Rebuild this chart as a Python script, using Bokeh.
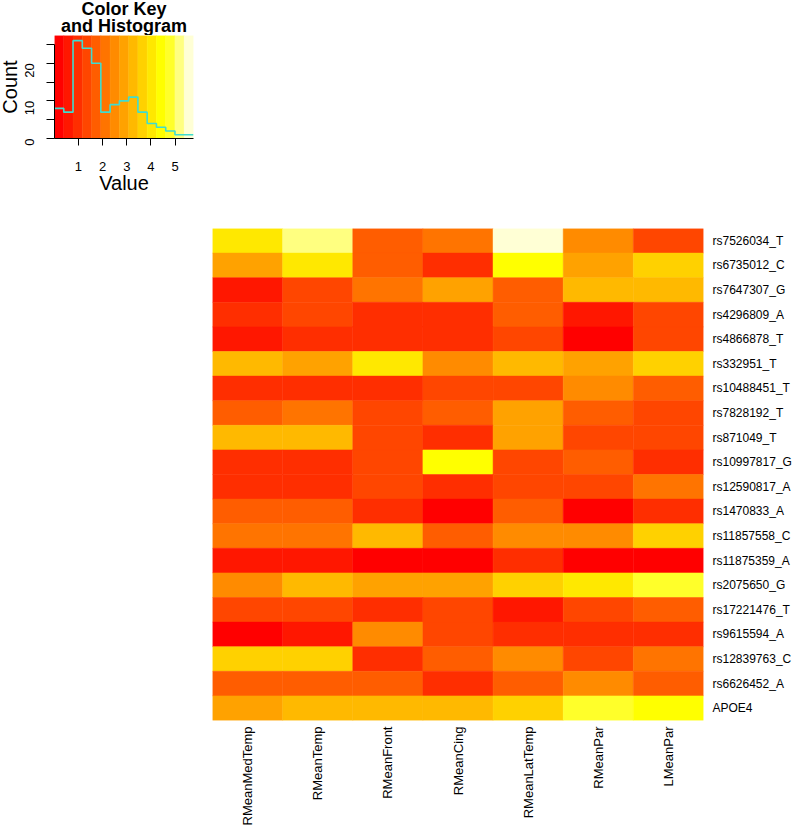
import math
import numpy as np
from bokeh.plotting import figure
from bokeh.models import (FactorRange, Range1d, LinearColorMapper, FixedTicker,
                          ColumnDataSource)
from bokeh.core.properties import value
from bokeh.layouts import column
from bokeh.transform import transform
from bokeh.embed import file_html
from bokeh.resources import INLINE

# ---------------- data ----------------
columns = ["RMeanMedTemp", "RMeanTemp", "RMeanFront", "RMeanCing",
           "RMeanLatTemp", "RMeanPar", "LMeanPar"]

rows = ["rs7526034_T", "rs6735012_C", "rs7647307_G", "rs4296809_A",
        "rs4866878_T", "rs332951_T", "rs10488451_T", "rs7828192_T",
        "rs871049_T", "rs10997817_G", "rs12590817_A", "rs1470833_A",
        "rs11857558_C", "rs11875359_A", "rs2075650_G", "rs17221476_T",
        "rs9615594_A", "rs12839763_C", "rs6626452_A", "APOE4"]

values = [
    [4.05, 5.18, 1.72, 2.10, 5.76, 2.52, 1.38],
    [2.86, 4.10, 1.69, 0.97, 4.41, 2.91, 3.62],
    [0.58, 1.33, 2.05, 2.82, 1.78, 3.25, 3.31],
    [1.05, 1.41, 0.95, 0.99, 1.74, 0.62, 1.36],
    [0.55, 0.92, 1.02, 0.98, 1.29, 0.18, 1.43],
    [3.30, 2.95, 4.08, 2.47, 3.36, 2.88, 3.70],
    [0.90, 0.96, 1.08, 1.25, 1.33, 2.58, 1.65],
    [1.81, 2.14, 1.47, 1.76, 2.97, 1.70, 1.40],
    [3.22, 3.18, 1.35, 0.88, 2.79, 1.30, 1.46],
    [1.01, 1.06, 1.28, 4.48, 1.39, 1.62, 0.85],
    [0.94, 1.10, 1.44, 0.87, 1.37, 1.22, 2.20],
    [1.67, 1.73, 0.83, 0.01, 1.84, 0.27, 1.04],
    [2.25, 2.18, 3.40, 1.60, 2.40, 2.62, 3.55],
    [0.66, 0.49, 0.31, 0.22, 1.12, 0.12, 0.35],
    [2.44, 3.15, 2.75, 3.01, 3.78, 3.95, 4.72],
    [1.20, 1.32, 1.00, 1.49, 0.70, 1.26, 1.86],
    [0.08, 0.44, 2.36, 1.52, 0.80, 1.14, 0.91],
    [3.52, 3.66, 1.11, 1.58, 2.55, 1.45, 2.02],
    [1.89, 1.64, 1.90, 1.07, 1.61, 2.66, 1.79],
    [2.73, 3.38, 3.28, 3.12, 3.49, 4.88, 4.35],
]

# heat.colors(15)
palette = ["#FF0000", "#FF1700", "#FF2E00", "#FF4600", "#FF5D00",
           "#FF7400", "#FF8B00", "#FFA200", "#FFB900", "#FFD100",
           "#FFE800", "#FFFF00", "#FFFF2A", "#FFFF80", "#FFFFD5"]

value_ticks = [1, 2, 3, 4, 5]
count_ticks = [0, 5, 10, 15, 20, 25]
count_tick_labels = {0: "0", 5: "", 10: "10", 15: "", 20: "20", 25: ""}
key_title = ["Color Key", "and Histogram"]

FONT = "Liberation Sans"

# ---------------- derived ----------------
vals = np.array(values, dtype=float)
vmin, vmax = float(vals.min()), float(vals.max())
breaks = np.linspace(vmin, vmax, len(palette) + 1)
counts, _ = np.histogram(vals.ravel(), bins=breaks)
ymax = counts.max() / 0.95          # top of the colour bar, in counts
xmid = (vmin + vmax) / 2

mapper = LinearColorMapper(palette=palette, low=vmin, high=vmax)

# ---------------- key title ----------------
title_fig = figure(x_range=Range1d(vmin, vmax), y_range=Range1d(0, 1),
                   frame_width=139, frame_height=35, min_border=0,
                   min_border_left=54, min_border_right=7,
                   x_axis_type=None, y_axis_type=None,
                   output_backend="svg", toolbar_location=None, tools="")
title_fig.grid.visible = False
title_fig.outline_line_color = None
title_fig.frame_align = False
title_fig.text(x=[xmid, xmid], y=[0, 0], text=key_title, y_offset=[-26.5, -10],
               text_align="center", text_baseline="alphabetic",
               text_font=value(FONT), text_font_size="18px",
               text_font_style="bold", text_color="black")

# ---------------- colour key ----------------
SHIFT = 20   # key canvas starts this far left of the page edge
key = figure(x_range=Range1d(vmin, vmax), y_range=Range1d(0, ymax),
             frame_width=139, frame_height=103,
             min_border_left=54 + SHIFT, min_border_right=7,
             min_border_top=0, min_border_bottom=67,
             output_backend="svg", toolbar_location=None, tools="",
             styles={"margin-left": f"-{SHIFT}px"})
key.frame_align = False
key.grid.visible = False
key.outline_line_color = None

key.quad(left=breaks[:-1], right=breaks[1:], bottom=0, top=ymax,
         fill_color=palette, line_color=palette, line_width=0.5)
key.step(x=breaks, y=np.append(counts, counts[-1]), mode="after",
         line_color="#3FDCD0", line_width=1.6)

for ax in (key.xaxis[0], key.yaxis[0]):
    ax.axis_line_color = "black"
    ax.major_tick_line_color = "black"
    ax.minor_tick_line_color = None
    ax.major_tick_in = 0
    ax.major_label_text_font = FONT
    ax.major_label_text_font_size = "13px"
    ax.major_label_text_color = "black"
    ax.axis_label_text_font = FONT
    ax.axis_label_text_font_size = "20px"
    ax.axis_label_text_font_style = "normal"
    ax.axis_label_text_color = "black"

key.xaxis.ticker = FixedTicker(ticks=value_ticks)
key.xaxis.major_tick_out = 7
key.xaxis.major_label_standoff = 16
key.xaxis.axis_label = "Value"
key.xaxis.axis_label_standoff = -2

key.yaxis.ticker = FixedTicker(ticks=count_ticks)
key.yaxis.major_label_overrides = count_tick_labels
key.yaxis.bounds = (count_ticks[0], count_ticks[-1])
key.yaxis.major_tick_out = 8
key.yaxis.major_label_standoff = 17
key.yaxis.major_label_orientation = math.pi / 2
key.yaxis.axis_label = "Count"
key.yaxis.axis_label_standoff = -3

# ---------------- heatmap ----------------
src = ColumnDataSource(dict(
    col=[c for r in rows for c in columns],
    row=[r for r in rows for c in columns],
    val=[v for rv in values for v in rv],
))

heat = figure(x_range=FactorRange(*columns), y_range=FactorRange(*reversed(rows)),
              frame_width=491, frame_height=492,
              min_border_left=212, min_border_top=23,
              min_border_right=5, min_border_bottom=5,
              y_axis_location="right",
              output_backend="svg", toolbar_location=None, tools="")
heat.frame_align = False
heat.grid.visible = False
heat.outline_line_color = None

heat.rect(x="col", y="row", width=1, height=1, source=src,
          fill_color=transform("val", mapper),
          line_color=transform("val", mapper), line_width=0.5)

for ax in (heat.xaxis[0], heat.yaxis[0]):
    ax.axis_line_color = None
    ax.major_tick_line_color = None
    ax.minor_tick_line_color = None
    ax.major_tick_out = 0
    ax.major_tick_in = 0
    ax.major_label_text_font = FONT
    ax.major_label_text_color = "black"

heat.xaxis.major_label_orientation = math.pi / 2
heat.xaxis.major_label_text_font_size = "13px"
heat.xaxis.major_label_standoff = 6
heat.yaxis.major_label_text_font_size = "12px"
heat.yaxis.major_label_standoff = 9

layout = column(title_fig, key, heat)

with open("out.html", "w") as f:
    f.write(file_html(layout, INLINE))
